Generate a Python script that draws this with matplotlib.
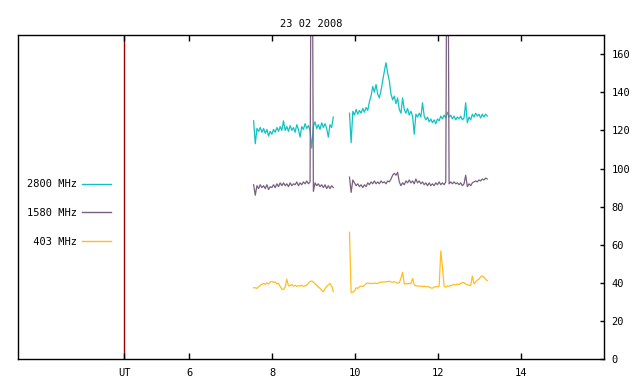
import numpy as np
import matplotlib
matplotlib.use("Agg")
import matplotlib.pyplot as plt

# ---- data (UT hours) ----
title = "23 02 2008"
labels = ["2800 MHz", "1580 MHz", " 403 MHz"]
xtick_vals = [4.434, 6, 8, 10, 12, 14]
xtick_labels = ["UT", "6", "8", "10", "12", "14"]
ytick_vals = [0, 20, 40, 60, 80, 100, 120, 140, 160]
ut_marker = 4.434

# sampling grids of the two observation segments
t1_start, t2_start, dt = 7.55, 9.86, 0.04
n1, n2 = 49, 84

c2800_a = [125, 113, 121, 119.5, 121.5, 119, 121, 118.5, 120.5, 117, 119.5, 118, 120.5, 119,
           121.5, 119.5, 122, 120, 125, 120, 122, 119.5, 122.5, 120, 121.5, 119, 123, 120.5,
           116.5, 122, 120.5, 123.5, 121, 122.5, 120, 110.7, 122, 124.5, 121, 123, 120.5, 124,
           121.5, 123.5, 121, 116.5, 123, 121.5, 127]
c2800_b = [129, 113.5, 130, 128, 131, 128.5, 130.5, 129, 131.5, 129.5, 132, 130.5, 135, 138,
           143, 140, 144, 139, 137, 141, 146, 151, 155.5, 150, 146, 139, 136, 138, 134, 137,
           131, 129, 137, 131, 129, 131.5, 128, 130, 127.5, 118, 128.5, 127, 129, 127, 134.5,
           127.5, 125.5, 127, 124.5, 126, 124, 125.5, 123.5, 126, 125, 127.5, 126, 128, 126.5,
           129.5, 127, 128, 126, 127.5, 125.5, 127, 126, 127.5, 125.5, 126.5, 134.5, 124, 127,
           125.5, 128.5, 127, 129, 127.5, 128.5, 126.5, 128.5, 127, 128.5, 127.5]

c1580_a = [91.5, 86, 91, 89.5, 91.5, 90, 91, 89.5, 91.5, 89, 90.5, 90, 91.5, 90, 92, 90.5,
           92.5, 91, 92.5, 91, 92, 90.5, 92.5, 91, 92, 91.5, 93, 91, 92.5, 91.5, 93, 92, 93.5,
           92, 93, 300, 88, 92.5, 91, 92, 90.5, 91.5, 90, 91.5, 89.5, 91, 89.5, 91, 90]
c1580_b = [95.5, 87.5, 94, 92.5, 91, 92, 90.5, 91.5, 90, 91.5, 90.5, 92.5, 91.5, 93, 92, 93.5,
           92, 93, 92, 93.5, 92.5, 93, 92, 93.5, 93, 94.5, 96.5, 97.5, 96.5, 98, 93, 91, 92.5,
           91.5, 93.5, 92.5, 94, 92.5, 93.5, 92, 94.5, 92.5, 93.5, 92, 93, 91.5, 92.5, 91, 92.5,
           91, 92, 91, 92.5, 91.5, 93, 91.5, 92.5, 91.5, 93, 300, 92, 93, 92, 93, 92, 92.5, 91.5,
           92.5, 91, 92, 96.5, 90.5, 92, 91, 92.5, 93, 93.5, 93, 94, 93.5, 94.5, 94, 95, 94.5]

c403_a = [37.5, 37.5, 37.2, 38, 38.8, 39.3, 39.8, 39.3, 40, 39.5, 40.5, 40.8, 40.3, 40.6, 39.5,
          39.8, 38.2, 36.8, 36.6, 37.8, 42, 38.5, 38.6, 39.2, 38.3, 38.8, 38.2, 38.6, 38.4, 38.8,
          38.2, 38.5, 38.9, 40, 40.8, 41, 40.5, 39.5, 38.8, 37.8, 37.2, 36.2, 35.4, 37, 38.2, 39,
          39.8, 38.5, 35.5]
c403_b = [66.6, 35, 35.2, 35.8, 37.5, 37.2, 38, 38.4, 38.2, 38.8, 39.6, 40, 39.7, 39.9, 39.6,
          40, 39.8, 39.7, 40.3, 40.5, 40.4, 40.6, 40.5, 40.8, 40.9, 40.6, 40.4, 40.7, 40.2, 39.9,
          40.1, 42.5, 45.6, 39.5, 39.8, 39.4, 39.9, 39.6, 42.4, 39, 38.6, 38.4, 38.3, 38.4, 38.1,
          38.3, 38, 38.2, 37.8, 37.4, 37.3, 37.8, 38.2, 38, 38.3, 56.8, 48.5, 38.2, 37.8, 38.5,
          38.3, 38.6, 38.9, 39.3, 39, 39.5, 39.2, 39.8, 40.2, 40.1, 39.5, 39.1, 38.8, 38.6, 43.7,
          39.5, 40.5, 41.5, 42, 43.2, 43.8, 43, 42, 41.2]

colors = ["#12c2c2", "#7a5f80", "#ffbe1e"]
red = "#a00000"

t1 = t1_start + dt * np.arange(n1)
t2 = t2_start + dt * np.arange(n2)

plt.rcParams['font.family'] = ['DejaVu Sans Mono']
fs = 7.5

fig = plt.figure(figsize=(6.4, 3.84), dpi=100)
ax = fig.add_axes([18.3 / 640, (384 - 359.3) / 384, (604.3 - 18.3) / 640, (359.3 - 35) / 384])

ax.axvline(ut_marker, color=red, lw=1.0, zorder=1)

series = [(c2800_a, c2800_b), (c1580_a, c1580_b), (c403_a, c403_b)]
for (a, b), col, lab in zip(series, colors, labels):
    ax.plot(t1, a, color=col, lw=0.9, label=lab, zorder=2)
    ax.plot(t2, b, color=col, lw=0.9, zorder=2)

ax.set_xlim(1.88, 16.0)
ax.set_ylim(0, 170)

ax.set_xticks(xtick_vals)
ax.set_xticklabels(xtick_labels, fontsize=fs)
ax.tick_params(axis='x', direction='in', length=4, width=1, top=True, bottom=True, pad=6)
ax.yaxis.tick_right()
ax.set_yticks(ytick_vals)
ax.set_yticklabels([str(v) for v in ytick_vals], fontsize=fs)
ax.tick_params(axis='y', direction='in', length=3, width=1, left=False, right=True, pad=5)
for s in ax.spines.values():
    s.set_linewidth(1.0)

ax.set_title(title, fontsize=fs, pad=6)

leg = ax.legend(loc='center left', bbox_to_anchor=(27 / 640, (384 - 213) / 384),
                bbox_transform=fig.transFigure, frameon=False, markerfirst=False,
                fontsize=fs, handlelength=2.8, handletextpad=0.5, labelspacing=1.8,
                borderpad=0, borderaxespad=0)
for h in leg.get_lines():
    h.set_linewidth(1.0)

fig.savefig("out.png", dpi=100)
